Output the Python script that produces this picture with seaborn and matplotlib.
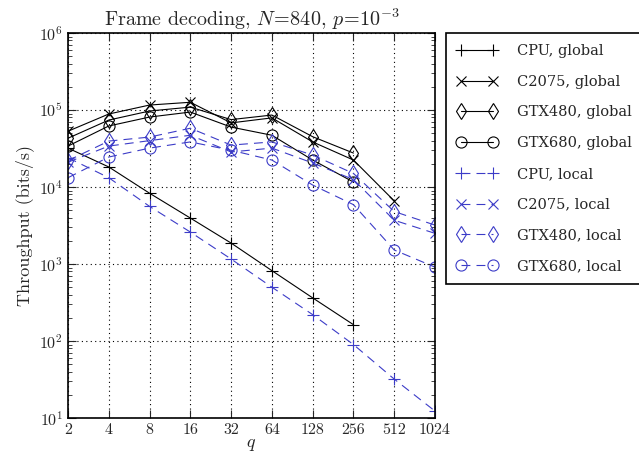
import numpy as np
import pandas as pd
import matplotlib
matplotlib.use("Agg")
import matplotlib.pyplot as plt
import seaborn as sns

# ---- data ----
q = [2, 4, 8, 16, 32, 64, 128, 256, 512, 1024]
q_labels = ["2", "4", "8", "16", "32", "64", "128", "256", "512", "1024"]

cpu_global = [32000, 18200, 8300, 3950, 1870, 820, 363, 163]
c2075_global = [53000, 88700, 116000, 126000, 68000, 79000, 38500, 22400, 6600]
gtx480_global = [43000, 74000, 97000, 109000, 75000, 86000, 45000, 27600]
gtx680_global = [34000, 62000, 81000, 94000, 60000, 47000, 22400, 11600]

cpu_local = [24000, 13200, 5600, 2600, 1160, 500, 220, 90, 32, 12.3]
c2075_local = [21000, 34000, 40000, 47000, 28500, 32000, 20500, 12500, 3700, 2500]
gtx480_local = [22000, 39500, 44500, 58000, 35000, 38500, 26000, 15000, 4800, 3200]
gtx680_local = [13200, 24500, 32000, 38500, 30000, 22400, 10600, 5900, 1520, 910]

series_names = ["CPU, global", "C2075, global", "GTX480, global", "GTX680, global",
                "CPU, local", "C2075, local", "GTX480, local", "GTX680, local"]
series_values = [cpu_global, c2075_global, gtx480_global, gtx680_global,
                 cpu_local, c2075_local, gtx480_local, gtx680_local]

rows = []
for name, vals in zip(series_names, series_values):
    for qi, v in zip(q, vals):
        rows.append({"series": name, "q": qi, "throughput": v})
df = pd.DataFrame(rows)

# ---- style ----
sns.set_style("ticks")
plt.rcParams["font.family"] = ["serif"]
plt.rcParams["font.serif"] = ["cmr10", "DejaVu Serif"]
plt.rcParams["mathtext.fontset"] = "cm"
plt.rcParams["axes.formatter.use_mathtext"] = True
plt.rcParams["axes.unicode_minus"] = False

fig = plt.figure(figsize=(6.39, 4.54), dpi=100)
ax = fig.add_axes([68 / 639, 1 - 418 / 454, (435 - 68) / 639, (418 - 33) / 454])

black = "black"
blue = "#3c3cc8"
markers = ["+", "x", "d", "o"]
msizes = [9, 7.5, 8.5, 8]

for i, name in enumerate(series_names):
    is_local = i >= 4
    m = markers[i % 4]
    col = blue if is_local else black
    sub = df[df["series"] == name]
    kw = dict(color=col, marker=m, markersize=msizes[i % 4],
              markerfacecolor="none", markeredgecolor=col, markeredgewidth=0.8,
              linewidth=0.8, label=name)
    if is_local:
        kw["dashes"] = (8, 5.5)
    sns.lineplot(data=sub, x="q", y="throughput", ax=ax, sort=False,
                 estimator=None, legend=False, **kw)

ax.set_xscale("log", base=2)
ax.set_yscale("log")
ax.set_xlim(2, 1024)
ax.set_ylim(10, 1e6)
ax.set_xticks(q)
ax.set_xticklabels(q_labels)
ax.xaxis.set_minor_locator(matplotlib.ticker.NullLocator())
ax.tick_params(which="both", direction="in", top=True, right=True, labelsize=11.5)
ax.tick_params(which="major", length=6, width=0.8)
ax.tick_params(which="minor", length=3, width=0.6)
ax.grid(True, which="major", linestyle=(0, (1, 3)), color="black", linewidth=0.8)
for s in ax.spines.values():
    s.set_linewidth(1.2)
    s.set_color("black")

ax.set_xlabel("$q$", fontsize=13, labelpad=0)
ax.set_ylabel("Throughput (bits/s)", fontsize=13, labelpad=4)
ax.set_title(r"Frame decoding, $N\!=\!840$, $p\!=\!10^{-3}$", fontsize=14.5, pad=5)

handles, labels = ax.get_legend_handles_labels()
leg = ax.legend(handles, labels, loc="upper left",
                bbox_to_anchor=(446 / 639, 1 - 33 / 454), bbox_transform=fig.transFigure,
                prop={"family": "DejaVu Serif", "size": 10.5},
                frameon=True, fancybox=False, edgecolor="black", framealpha=1,
                numpoints=2, handlelength=2.8, handletextpad=1.3,
                labelspacing=1.15, borderpad=0.75, borderaxespad=0)
leg.get_frame().set_linewidth(1.2)

fig.savefig("out.png", dpi=100)
